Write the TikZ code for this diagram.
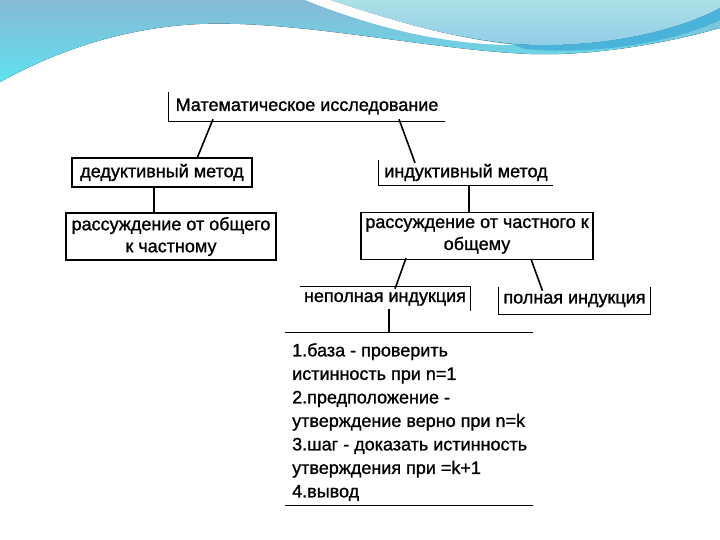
\documentclass[tikz,border=0pt]{standalone}
\usepackage{fontspec}
\setmainfont{Liberation Sans}
\newfontfamily\heavy{Liberation Sans}[FakeBold=1.2]
\definecolor{bgtop}{HTML}{87B9D5}
\definecolor{bgbot}{HTML}{5FE2EF}
\definecolor{paletop}{HTML}{ABE0E6}
\definecolor{palebot}{HTML}{8FCBE9}
\definecolor{band}{HTML}{4AB3D9}
\tikzset{
  lbl/.style={inner sep=0pt, font=\heavy\fontsize{18}{22}\selectfont, align=center},
  bx/.style={lbl, draw, line width=1.2pt},
  edge/.style={line width=1.6pt},
  side/.style={line width=1.2pt}
}
\begin{document}
\begin{tikzpicture}[x=1pt,y=-1pt]
\useasboundingbox (0,0) rectangle (720,540);
% background waves
\fill[top color=bgtop, bottom color=bgbot] (0,0) -- (720,0) -- (720,28)
  .. controls (660,45) and (590,56) .. (530,54)
  .. controls (430,50) and (300,20) .. (200,24)
  .. controls (110,28) and (40,60) .. (0,82) -- cycle;
\fill[top color=paletop, bottom color=palebot] (330,0)
  .. controls (390,20) and (450,38) .. (515,44)
  .. controls (600,50) and (680,30) .. (720,8) -- (720,0) -- cycle;
\fill[white] (305,0) .. controls (380,30) and (450,45) .. (515,45)
  .. controls (450,38) and (390,20) .. (330,0) -- cycle;
\fill[band] (512,44) .. controls (600,50) and (680,30) .. (720,8)
  -- (720,20) .. controls (680,40) and (600,56) .. (525,49) -- cycle;
% nodes
\node[lbl, minimum width=276, minimum height=29] (m) at (307,106.5) {Математическое исследование};
\node[bx, minimum width=180, minimum height=29] (d) at (162,172.5) {дедуктивный метод};
\node[bx, minimum width=210, minimum height=47] (r1) at (171,236.5) {рассуждение от общего\\к частному};
\node[lbl, minimum width=174, minimum height=25] (i) at (466,172.5) {индуктивный метод};
\node[bx, minimum width=232, minimum height=47] (r2) at (477,236) {рассуждение от частного к\\общему};
\node[lbl, minimum width=170, minimum height=24] (np) at (385,299) {неполная индукция};
\node[lbl, minimum width=151, minimum height=27] (p) at (574.5,300.5) {полная индукция};
\node[inner sep=0pt, minimum width=248, minimum height=172] (b) at (409,419) {};
\node[lbl, anchor=north west, align=left, font=\heavy\fontsize{18}{23.5}\selectfont] (bt) at (292,343)
  {1.база - проверить\\истинность при n=1\\2.предположение -\\утверждение верно при n=k\\3.шаг - доказать истинность\\утверждения при =k+1\\4.вывод};
% partial borders
\draw[side] (m.north west) -- (m.south west) -- (m.south east);
\draw[side] (i.north west) -- (i.south west) -- (i.south east);
\draw[side] (np.north west) -- (np.north east) -- (np.south east);
\draw[side] (p.north west) -- (p.south west) -- (p.south east) -- (p.north east);
\draw[side] (b.north west) -- (b.north east);
\draw[side] (b.south west) -- (b.south east);
% connectors
\draw[edge] ([xshift=-94pt,yshift=2pt]m.south) -- ([xshift=35pt,yshift=-1pt]d.north);
\draw[edge] ([xshift=92pt,yshift=2pt]m.south) -- ([xshift=-51pt,yshift=-3pt]i.north);
\draw[edge] ([xshift=-8pt]d.south) -- ([xshift=-8pt]d.south |- r1.north);
\draw[edge] ([xshift=3pt]i.south) -- ([xshift=3pt]i.south |- r2.north);
\draw[edge] ([xshift=-71pt,yshift=2pt]r2.south) -- ([xshift=10pt,yshift=-2pt]np.north);
\draw[edge] ([xshift=54pt,yshift=1pt]r2.south) -- ([xshift=-32pt,yshift=-4pt]p.north);
\draw[edge] ([xshift=4pt,yshift=2pt]np.south) -- ([xshift=4pt]np.south |- b.north);
\end{tikzpicture}
\end{document}
